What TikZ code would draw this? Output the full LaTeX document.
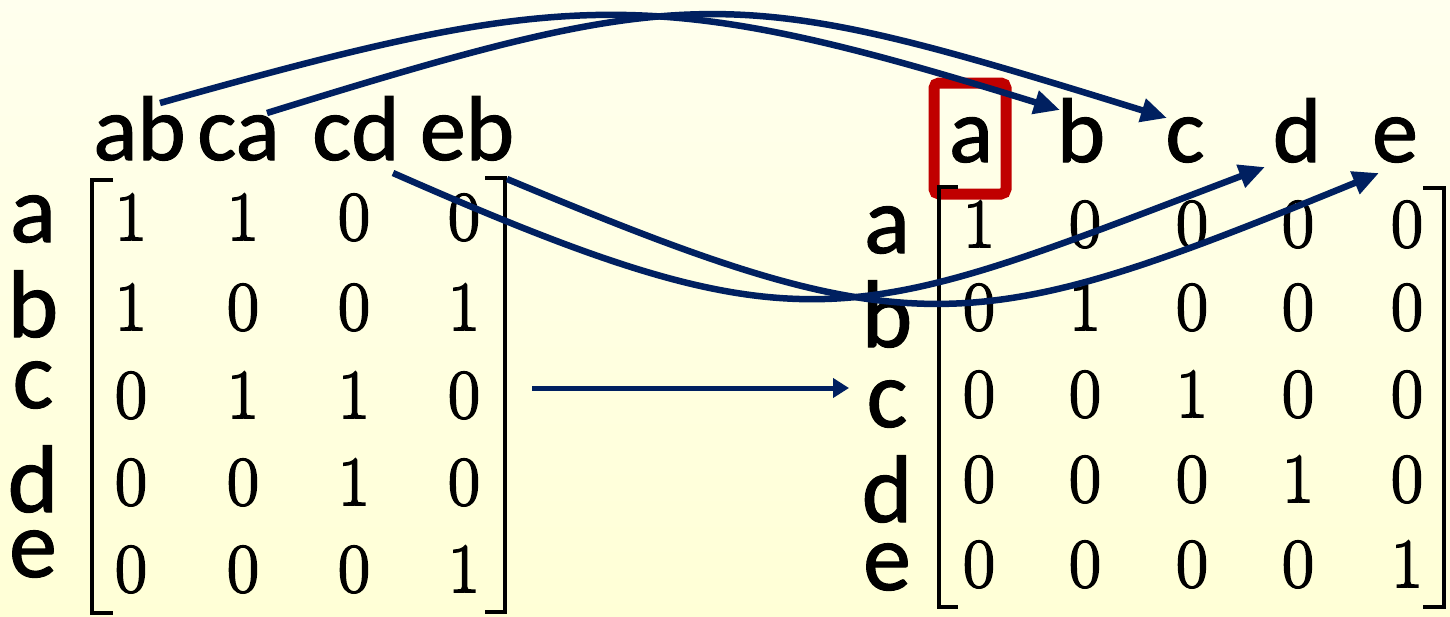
\documentclass[tikz,border=0pt]{standalone}
\usepackage{fontspec}
\usetikzlibrary{arrows.meta,calc}
\newfontfamily\labfont{Carlito}
\newfontfamily\numfont{Latin Modern Roman}[RawFeature={embolden=2.5}]
\definecolor{navy}{RGB}{0,32,96}
\definecolor{boxred}{RGB}{192,0,0}
\definecolor{bgtop}{RGB}{255,255,238}
\definecolor{bgbot}{RGB}{255,255,214}
\begin{document}
\begin{tikzpicture}[x=1pt,y=-1pt,
  lab/.style={anchor=base, inner sep=0pt, font=\labfont\fontsize{92}{92}\selectfont\addfontfeature{FakeBold=1.2}},
  rowlab/.style={anchor=base, inner sep=0pt, font=\labfont\fontsize{96}{96}\selectfont\addfontfeature{FakeBold=1.2}},
  num/.style={anchor=base, inner sep=0pt, font=\numfont\fontsize{70}{70}\selectfont},
  brk/.style={line width=4.5pt, black, line join=miter},
  conn/.style={navy, line width=6.5pt, -{Triangle[length=26pt,width=23pt]}},
  flowarr/.style={navy, line width=5pt, -{Triangle[length=16pt,width=19pt]}},
  hilite/.style={draw=boxred, line width=11pt, rounded corners=5pt, inner sep=0pt, minimum width=72pt, minimum height=111pt}]
\useasboundingbox (0,0) rectangle (1450,616);
\shade[top color=bgtop, bottom color=bgbot] (0,0) rectangle (1450,616);

% left matrix headers
\node[lab] (hab) at (139.5,160) {ab};
\node[lab] (hca) at (238.5,160) {ca};
\node[lab] (hcd) at (356,160) {cd};
\node[lab] (heb) at (467,160) {eb};

% left row labels
\node[rowlab] (lla) at (33,242) {a};
\node[rowlab] (llb) at (33,337) {b};
\node[rowlab] (llc) at (33,408) {c};
\node[rowlab] (lld) at (33,512) {d};
\node[rowlab] (lle) at (33,577) {e};

% left matrix entries
\foreach \row/\y/\va/\vb/\vc/\vd in {1/240/1/1/0/0, 2/330/1/0/0/1, 3/418/0/1/1/0, 4/505/0/0/1/0, 5/592/0/0/0/1} {
  \node[num] (l\row1) at (131,\y) {\va};
  \node[num] (l\row2) at (243,\y) {\vb};
  \node[num] (l\row3) at (354,\y) {\vc};
  \node[num] (l\row4) at (464,\y) {\vd};
}
\draw[brk] (113,180) -- (92,180) -- (92,613) -- (113,613);
\draw[brk] (485,178) -- (505,178) -- (505,612) -- (485,612);

% right matrix headers
\node[hilite] (redbox) at (970,138.5) {};
\node[lab] (ra) at (971,162) {a};
\node[lab] (rb) at (1081,162) {b};
\node[lab] (rc) at (1185,162) {c};
\node[lab] (rd) at (1297,162) {d};
\node[lab] (re) at (1395,162) {e};

% right row labels
\node[rowlab] (rla) at (887,253) {a};
\node[rowlab] (rlb) at (887,347) {b};
\node[rowlab] (rlc) at (887,427) {c};
\node[rowlab] (rld) at (887,522) {d};
\node[rowlab] (rle) at (887,590) {e};

% right matrix entries
\foreach \row/\y in {1/247, 2/330, 3/417, 4/502, 5/587} {
  \foreach \col/\x in {1/979, 2/1085, 3/1192, 4/1298, 5/1407} {
    \node[num] (r\row\col) at (\x,\y) {\ifnum\row=\col\relax 1\else 0\fi};
  }
}
\draw[brk] (958,187) -- (939,187) -- (939,607) -- (958,607);
\draw[brk] (1423,188) -- (1444,188) -- (1444,607) -- (1423,607);

% connectors
\draw[flowarr] ($(l34.base)+(68,-30)$) -- ($(rlc.base)+(-38,-39)$);
\draw[conn] ($(hab.base)+(20.5,-57)$) .. controls (569,-12) and (651,-17) .. ($(rb.base)+(-21,-52)$);
\draw[conn] ($(hca.base)+(28.5,-47)$) .. controls (699,-21) and (735,-16) .. ($(rc.base)+(-18,-44)$);
\draw[conn] ($(hcd.base)+(37,13)$) .. controls (809,356) and (849,325) .. ($(rd.base)+(-32,5)$);
\draw[conn] ($(heb.base)+(40,19)$) .. controls (915,350) and (971,340) .. ($(re.base)+(-16,11)$);
\end{tikzpicture}
\end{document}
